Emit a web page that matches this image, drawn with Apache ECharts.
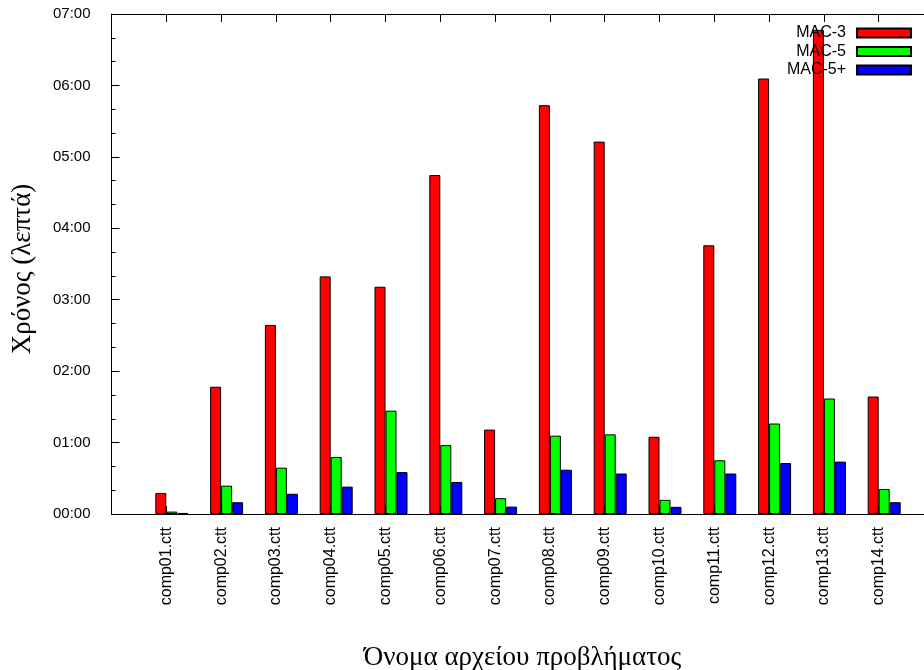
<!DOCTYPE html>
<html>
<head>
<meta charset="utf-8">
<script src="https://cdn.jsdelivr.net/npm/echarts@6/dist/echarts.min.js"></script>
<style>html,body{margin:0;padding:0;background:#fff;}#chart{width:924px;height:670px;}</style>
</head>
<body>
<div id="chart"></div>
<script>
// Data (times in seconds, shown as mm:ss)
const categories = ['comp01.ctt','comp02.ctt','comp03.ctt','comp04.ctt','comp05.ctt','comp06.ctt','comp07.ctt',
                    'comp08.ctt','comp09.ctt','comp10.ctt','comp11.ctt','comp12.ctt','comp13.ctt','comp14.ctt'];
const mac3  = [17.6, 106.9, 158.8, 199.6, 190.9, 284.7, 70.9, 343.4, 312.8, 64.9, 225.7, 365.8, 406.7, 98.7];
const mac5  = [2.0, 23.8, 38.9, 47.9, 86.8, 57.9, 13.3, 65.8, 66.9, 11.9, 45.1, 76.0, 97.0, 21.0];
const mac5p = [0.9, 9.9, 17.0, 23.0, 35.2, 26.9, 6.2, 37.2, 34.0, 6.0, 34.0, 42.8, 44.0, 9.9];
const seriesNames = ['MAC-3', 'MAC-5', 'MAC-5+'];
const seriesColors = ['#ff0000', '#00ff00', '#0000ff'];
const yTickValues = [0, 60, 120, 180, 240, 300, 360, 420];

function pad(n) { return (n < 10 ? '0' : '') + n; }
function fmtTime(v) { const m = Math.floor(v / 60), s = Math.round(v % 60); return pad(m) + ':' + pad(s); }

const chart = echarts.init(document.getElementById('chart'), null, { renderer: 'canvas' });
const values = [mac3, mac5, mac5p];

const barSeries = values.map((arr, k) => ({
  name: seriesNames[k],
  type: 'bar',
  data: arr.map((v, i) => [i + 1, v]),
  barWidth: 11,
  barGap: '0%',
  itemStyle: { color: seriesColors[k], borderColor: '#000', borderWidth: 1 },
  emphasis: { disabled: true },
  animation: false
}));

// invisible spacer so that the first bar ends at the tick
const spacer = { name: 'spacer', type: 'bar', data: [], barWidth: 11, barGap: '0%', silent: true,
  itemStyle: { color: 'rgba(0,0,0,0)' }, animation: false };

const axisLineStyle = { color: '#000', width: 1 };

chart.setOption({
  backgroundColor: '#fff',
  animation: false,
  grid: { left: 111.5, right: -9.5, top: 14, bottom: 156, containLabel: false, outerBoundsMode: 'none' },
  legend: {
    data: seriesNames,
    icon: 'rect',
    orient: 'vertical',
    right: 7,
    top: 20,
    align: 'right',
    itemWidth: 54,
    itemHeight: 9,
    itemGap: 2.5,
    selectedMode: false,
    textStyle: { fontFamily: 'Liberation Sans', fontSize: 16, color: '#000', lineHeight: 16, padding: [0, 6, 0, 0] }
  },
  xAxis: [
    {
      type: 'value', position: 'bottom', min: 0, max: 15, interval: 1,
      axisLine: { show: true, lineStyle: axisLineStyle, onZero: false },
      axisTick: { show: true, inside: true, length: 8, lineStyle: axisLineStyle },
      splitLine: { show: false },
      axisLabel: {
        rotate: 90, margin: 13, fontFamily: 'Liberation Sans', fontSize: 16, color: '#000',
        showMinLabel: true, showMaxLabel: true,
        formatter: v => (v >= 1 && v <= categories.length) ? categories[v - 1] : ''
      },
      name: 'Όνομα αρχείου προβλήματος',
      nameLocation: 'middle',
      nameGap: 130,
      nameTextStyle: { fontFamily: 'Liberation Serif', fontSize: 27, color: '#000' }
    },
    {
      type: 'value', position: 'top', min: 0, max: 15, interval: 1,
      axisLine: { show: true, lineStyle: axisLineStyle, onZero: false },
      axisTick: { show: true, inside: true, length: 8, lineStyle: axisLineStyle },
      axisLabel: { show: false },
      splitLine: { show: false }
    }
  ],
  yAxis: [
    {
      type: 'value', min: yTickValues[0], max: yTickValues[yTickValues.length - 1], interval: 60,
      axisLine: { show: true, lineStyle: axisLineStyle, onZero: false },
      axisTick: { show: true, inside: true, length: 8, lineStyle: axisLineStyle },
      minorTick: { show: true, splitNumber: 3, length: 4, lineStyle: axisLineStyle },
      splitLine: { show: false },
      axisLabel: { margin: 21, fontFamily: 'Liberation Sans', fontSize: 15, color: '#000', formatter: fmtTime },
      name: 'Χρόνος (λεπτά)',
      nameLocation: 'middle',
      nameGap: 75,
      nameTextStyle: { fontFamily: 'Liberation Serif', fontSize: 27, color: '#000', padding: [0, 10, 0, 0] }
    }
  ],
  series: [spacer].concat(barSeries)
});
</script>
</body>
</html>
